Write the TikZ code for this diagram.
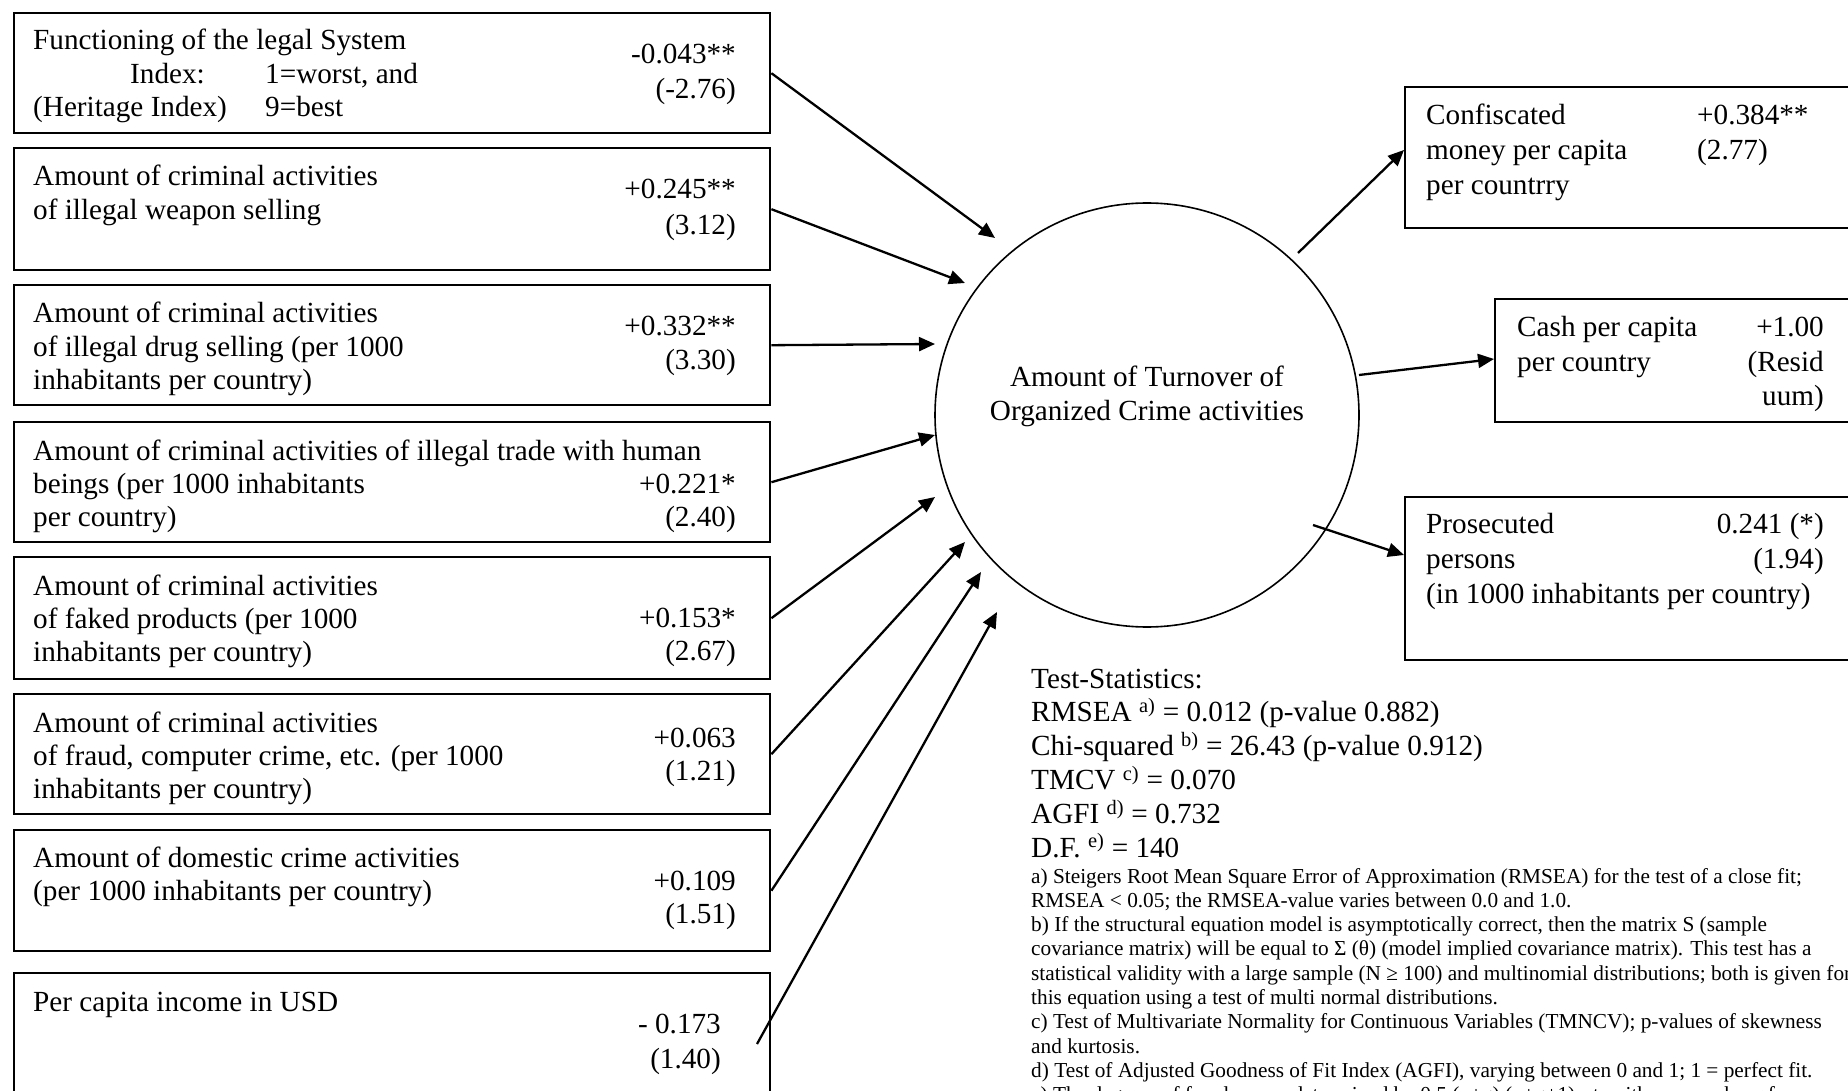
\documentclass[tikz,border=0pt]{standalone}
\usepackage{fontspec}
\setmainfont{Liberation Serif}
\usetikzlibrary{arrows.meta,calc}
\newcommand\fntA{\fontsize{29.2}{33.3}\selectfont}
\newcommand\fntB{\fontsize{21.3}{24.3}\selectfont}
\tikzset{
  box/.style={draw, line width=2.4pt, rectangle, inner sep=0pt, anchor=north west},
  txt/.style={anchor=base west, inner sep=0pt, font=\fntA},
  num/.style={anchor=base east, inner sep=0pt, font=\fntA},
  ctr/.style={anchor=base, inner sep=0pt, font=\fntA},
  sml/.style={anchor=base west, inner sep=0pt, font=\fntB},
  arr/.style={-{Triangle[length=16pt,width=14pt]}, line width=2.3pt},
}
\begin{document}
\begin{tikzpicture}[x=1pt,y=-1pt]
\useasboundingbox (0,0) rectangle (1848,1091);
\clip (0,0) rectangle (1848,1091);
\fill[white] (0,0) rectangle (1848,1091);

% left boxes
\node[box, minimum width=756pt, minimum height=120pt] (b1) at (13,12) {};
\node[box, minimum width=756pt, minimum height=122pt] (b2) at (13,147) {};
\node[box, minimum width=756pt, minimum height=120pt] (b3) at (13,284) {};
\node[box, minimum width=756pt, minimum height=120pt] (b4) at (13,421) {};
\node[box, minimum width=756pt, minimum height=122pt] (b5) at (13,556) {};
\node[box, minimum width=756pt, minimum height=120pt] (b6) at (13,693) {};
\node[box, minimum width=756pt, minimum height=121pt] (b7) at (13,829) {};
\node[box, minimum width=756pt, minimum height=140pt] (b8) at (13,972) {};

% box 1 text
\node[txt] (b1l1) at (33,50) {Functioning of the legal System};
\node[txt] (b1l2a) at (130,83.3) {Index:};
\node[txt] (b1l2b) at (265,83.3) {1=worst, and};
\node[txt] (b1l3a) at (33,116.6) {(Heritage Index)};
\node[txt] (b1l3b) at (265,116.6) {9=best};
\node[num] (b1n1) at (736,64) {-0.043**};
\node[num] (b1n2) at (736,99) {(-2.76)};

% box 2
\node[txt] (b2l1) at (33,186) {Amount of criminal activities};
\node[txt] (b2l2) at (33,219.3) {of illegal weapon selling};
\node[num] (b2n1) at (736,199) {+0.245**};
\node[num] (b2n2) at (736,235) {(3.12)};

% box 3
\node[txt] (b3l1) at (33,323) {Amount of criminal activities};
\node[txt] (b3l2) at (33,356.3) {of illegal drug selling (per 1000};
\node[txt] (b3l3) at (33,389.6) {inhabitants per country)};
\node[num] (b3n1) at (736,336) {+0.332**};
\node[num] (b3n2) at (736,370) {(3.30)};

% box 4
\node[txt] (b4l1) at (33,460) {Amount of criminal activities of illegal trade with human};
\node[txt] (b4l2) at (33,493.3) {beings (per 1000 inhabitants};
\node[txt] (b4l3) at (33,526.6) {per country)};
\node[num] (b4n1) at (736,493.3) {+0.221*};
\node[num] (b4n2) at (736,526.6) {(2.40)};

% box 5
\node[txt] (b5l1) at (33,595) {Amount of criminal activities};
\node[txt] (b5l2) at (33,628.3) {of faked products (per 1000};
\node[txt] (b5l3) at (33,661.6) {inhabitants per country)};
\node[num] (b5n1) at (736,627) {+0.153*};
\node[num] (b5n2) at (736,660) {(2.67)};

% box 6
\node[txt] (b6l1) at (33,732) {Amount of criminal activities};
\node[txt] (b6l2) at (33,765.3) {of fraud, computer crime, etc. (per 1000};
\node[txt] (b6l3) at (33,798.6) {inhabitants per country)};
\node[num] (b6n1) at (736,747) {+0.063};
\node[num] (b6n2) at (736,780) {(1.21)};

% box 7
\node[txt] (b7l1) at (33,867) {Amount of domestic crime activities};
\node[txt] (b7l2) at (33,900.3) {(per 1000 inhabitants per country)};
\node[num] (b7n1) at (736,890) {+0.109};
\node[num] (b7n2) at (736,923) {(1.51)};

% box 8
\node[txt] (b8l1) at (33,1011) {Per capita income in USD};
\node[num] (b8n1) at (721,1033) {- 0.173};
\node[num] (b8n2) at (721,1068) {(1.40)};

% central circle
\node[draw, circle, minimum size=424pt, line width=1.6pt, inner sep=0pt] (c) at (1147,415) {};
\node[ctr] (cl1) at (1147,387) {Amount of Turnover of};
\node[ctr] (cl2) at (1147,420.3) {Organized Crime activities};

% right boxes
\node[box, minimum width=480pt, minimum height=141pt] (r1) at (1404,86) {};
\node[box, minimum width=400pt, minimum height=123pt] (r2) at (1494,298) {};
\node[box, minimum width=480pt, minimum height=163pt] (r3) at (1404,496) {};

\node[txt] (r1l1) at (1426,125) {Confiscated};
\node[txt] (r1l2) at (1426,160) {money per capita};
\node[txt] (r1l3) at (1426,195) {per countrry};
\node[txt] (r1n1) at (1697,125) {+0.384**};
\node[txt] (r1n2) at (1697,160) {(2.77)};

\node[txt] (r2l1) at (1517,337) {Cash per capita};
\node[txt] (r2l2) at (1517,372) {per country};
\node[num] (r2n1) at (1824,337) {+1.00};
\node[num] (r2n2) at (1824,372) {(Resid};
\node[num] (r2n3) at (1824,405) {uum)};

\node[txt] (r3l1) at (1426,533) {Prosecuted};
\node[txt] (r3l2) at (1426,568) {persons};
\node[txt] (r3l3) at (1426,603) {(in 1000 inhabitants per country)};
\node[num] (r3n1) at (1824,533) {0.241 (*)};
\node[num] (r3n2) at (1824,568) {(1.94)};

% input arrows
\coordinate (t1) at (995,238);
\coordinate (t2) at (965,283);
\coordinate (t3) at (935,344);
\coordinate (t4) at (935,435);
\coordinate (t5) at (935,497);
\coordinate (t6) at (965,542);
\coordinate (t7) at (981,572);
\coordinate (t8) at (997,612);
\coordinate (s8) at (757,1044);
\draw[arr] (b1.east) -- (t1);
\draw[arr] (b2.east) -- (t2);
\draw[arr] (b3.east) -- (t3);
\draw[arr] (b4.east) -- (t4);
\draw[arr] (b5.east) -- (t5);
\draw[arr] (b6.east) -- (t6);
\draw[arr] (b7.east) -- (t7);
\draw[arr] (s8) -- (t8);

% output arrows
\coordinate (o1) at (1298,253);
\coordinate (i1) at (1404,150);
\coordinate (o2) at (1359,375);
\coordinate (i2) at (1494,359);
\coordinate (o3) at (1313,525);
\coordinate (i3) at (1404,555);
\draw[arr] (o1) -- (i1);
\draw[arr] (o2) -- (i2);
\draw[arr] (o3) -- (i3);

% test statistics
\node[txt] (ts0) at (1031,688) {Test-Statistics:};
\node[txt] (ts1) at (1031,721.8) {RMSEA \textsuperscript{a)} = 0.012 (p-value 0.882)};
\node[txt] (ts2) at (1031,755.6) {Chi-squared \textsuperscript{b)} = 26.43 (p-value 0.912)};
\node[txt] (ts3) at (1031,789.4) {TMCV \textsuperscript{c)} = 0.070};
\node[txt] (ts4) at (1031,823.2) {AGFI \textsuperscript{d)} = 0.732};
\node[txt] (ts5) at (1031,857) {D.F. \textsuperscript{e)} = 140};

\node[sml] (fn1) at (1031,883) {a) Steigers Root Mean Square Error of Approximation (RMSEA) for the test of a close fit;};
\node[sml] (fn2) at (1031,907.3) {RMSEA < 0.05; the RMSEA-value varies between 0.0 and 1.0.};
\node[sml] (fn3) at (1031,931.6) {b) If the structural equation model is asymptotically correct, then the matrix S (sample};
\node[sml] (fn4) at (1031,955.9) {covariance matrix) will be equal to Σ (θ) (model implied covariance matrix). This test has a};
\node[sml] (fn5) at (1031,980.2) {statistical validity with a large sample (N ≥ 100) and multinomial distributions; both is given for};
\node[sml] (fn6) at (1031,1004.5) {this equation using a test of multi normal distributions.};
\node[sml] (fn7) at (1031,1028.8) {c) Test of Multivariate Normality for Continuous Variables (TMNCV); p-values of skewness};
\node[sml] (fn8) at (1031,1053.1) {and kurtosis.};
\node[sml] (fn9) at (1031,1077.4) {d) Test of Adjusted Goodness of Fit Index (AGFI), varying between 0 and 1; 1 = perfect fit.};
\node[sml] (fn10) at (1031,1101.7) {e) The degrees of freedom are determined by 0.5 (p+q) (p+q+1) - t; with p = number of};
\end{tikzpicture}
\end{document}
